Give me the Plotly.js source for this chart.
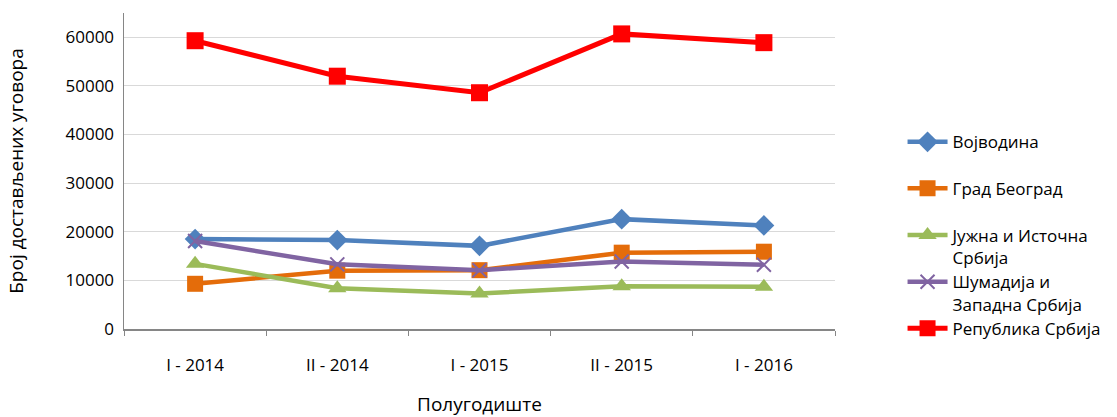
<!DOCTYPE html>
<html>
<head>
<meta charset="utf-8">
<script src="https://cdn.plot.ly/plotly-3.0.1.min.js"></script>
<style>html,body{margin:0;padding:0;background:#fff;}#chart{width:1117px;height:417px;}</style>
</head>
<body>
<div id="chart"></div>
<script>
const categories = ["I - 2014", "II - 2014", "I - 2015", "II - 2015", "I - 2016"];
const seriesNames = ["Војводина", "Град Београд", "Јужна и Источна<br>Србија", "Шумадија и<br>Западна Србија", "Република Србија"];
const vojvodina = [18500, 18300, 17100, 22600, 21300];
const gradBeograd = [9300, 12000, 12100, 15700, 15900];
const juznaIstocna = [13400, 8400, 7300, 8800, 8700];
const sumadijaZapadna = [18100, 13300, 12100, 13900, 13200];
const republika = [59300, 52000, 48600, 60700, 58900];

const seriesValues = [vojvodina, gradBeograd, juznaIstocna, sumadijaZapadna, republika];
const colors = ["#4F81BD", "#E46C0A", "#9BBB59", "#8064A2", "#FF0000"];
const symbols = ["diamond", "square", "triangle-up", "x-thin", "square"];
const sizes = [16, 16, 16, 14, 17];
const lineWidths = [4.5, 4.5, 4.5, 4.5, 5];
const legendY = [0.648, 0.501, 0.353, 0.205, 0.058];

const font = "Open Sans, Liberation Sans, sans-serif";
const traces = [];
const layout = {
  width: 1117, height: 417,
  margin: {l: 124, r: 280, t: 13, b: 88},
  paper_bgcolor: "#fff", plot_bgcolor: "#fff",
  font: {family: font, size: 16, color: "#000"},
  showlegend: true,
  xaxis: {
    type: "category",
    range: [-0.5, 4.5],
    showgrid: false,
    showline: true, linecolor: "#868686", linewidth: 1.5,
    ticks: "outside", ticklen: 5, tickcolor: "#868686", tickson: "boundaries",
    ticklabelstandoff: 20,
    tickfont: {size: 17, family: font},
    title: {text: "Полугодиште", font: {size: 19, family: font}, standoff: 29},
    zeroline: false, fixedrange: true
  },
  yaxis: {
    range: [0, 65000],
    tickvals: [0, 10000, 20000, 30000, 40000, 50000, 60000],
    ticktext: ["0", "10000", "20000", "30000", "40000", "50000", "60000"],
    showgrid: true, gridcolor: "#D9D9D9", gridwidth: 1,
    showline: true, linecolor: "#868686", linewidth: 1.5,
    ticks: "", ticklabelstandoff: 5,
    tickfont: {size: 17, family: font},
    title: {text: "Број достављених уговора", font: {size: 19, family: font}, standoff: 37},
    zeroline: false, fixedrange: true
  }
};

seriesValues.forEach((vals, i) => {
  const legendName = i === 0 ? "legend" : "legend" + (i + 1);
  traces.push({
    type: "scatter", mode: "lines+markers",
    x: categories, y: vals, name: seriesNames[i],
    legend: legendName,
    line: {color: colors[i], width: lineWidths[i]},
    marker: {symbol: symbols[i], size: sizes[i], color: colors[i],
             line: {color: colors[i], width: symbols[i] === "x-thin" ? 2 : 0}}
  });
  layout[legendName] = {
    x: 1.095, xanchor: "left", y: legendY[i], yanchor: "top",
    xref: "paper", yref: "paper",
    bgcolor: "rgba(0,0,0,0)", borderwidth: 0,
    font: {size: 17, family: font, color: "#000"},
    valign: "top", itemwidth: 40, tracegroupgap: 0
  };
});

Plotly.newPlot("chart", traces, layout, {displayModeBar: false, staticPlot: true});
</script>
</body>
</html>
